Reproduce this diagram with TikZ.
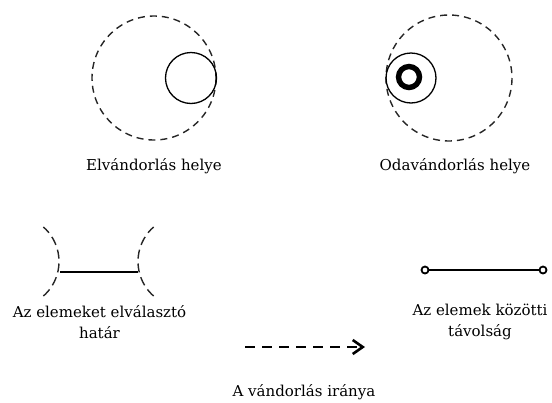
\documentclass[tikz,border=0pt]{standalone}
\usepackage{fontspec}
\setmainfont{DejaVu Serif}
\usetikzlibrary{arrows.meta}
\tikzset{
  lbl/.style={font=\fontsize{15}{20.5}\selectfont, text=black, align=center, inner sep=0pt},
  dashc/.style={draw=black!85, line width=1.4pt, dash pattern=on 7pt off 5pt},
  thinc/.style={draw=black, line width=1.3pt},
  thick2/.style={draw=black, line width=2.7pt},
  endc/.style={circle, draw=black, line width=1.8pt, fill=white, minimum size=7pt, inner sep=0pt}
}
\begin{document}
\begin{tikzpicture}[x=1pt,y=-1pt]
\useasboundingbox (0,0) rectangle (552,402);
% top left
\draw[dashc] (154,78) circle[radius=62];
\draw[thinc] (191,78) circle[radius=25.5];
\node[lbl] (l1) at (154,166) {Elvándorlás helye};
% top right
\draw[dashc] (449,78) circle[radius=63];
\draw[thinc] (411,78) circle[radius=25];
\draw[draw=black, line width=5.4pt] (409,77) circle[radius=10.5];
\node[lbl] (l2) at (455,166) {Odavándorlás helye};
% boundary
\coordinate (bl) at (60,272);
\coordinate (br) at (138,272);
\draw[dashc, dash pattern=on 9pt off 5pt] (13,261.5) ++(48.6:46) arc[start angle=48.6, end angle=-48.6, radius=46];
\draw[dashc, dash pattern=on 9pt off 5pt] (184,261.5) ++(131.4:46) arc[start angle=131.4, end angle=228.6, radius=46];
\draw[thick2] (bl) -- (br);
\node[lbl] (l3) at (99.5,322) {Az elemeket elválasztó\\határ};
% arrow
\coordinate (as) at (245,347);
\coordinate (ae) at (365,347);
\draw[draw=black, line width=2.8pt, dash pattern=on 10pt off 7pt, -{Straight Barb[length=10pt,width=14pt,line width=2.6pt]}] (as) -- (ae);
\node[lbl] (l4) at (304,392) {A vándorlás iránya};
% distance
\node[endc] (d1) at (425,270) {};
\node[endc] (d2) at (543,270) {};
\draw[draw=black, line width=2pt] (d1) -- (d2);
\node[lbl] (l5) at (480,322) {Az elemek közötti\\távolság};
\end{tikzpicture}
\end{document}
